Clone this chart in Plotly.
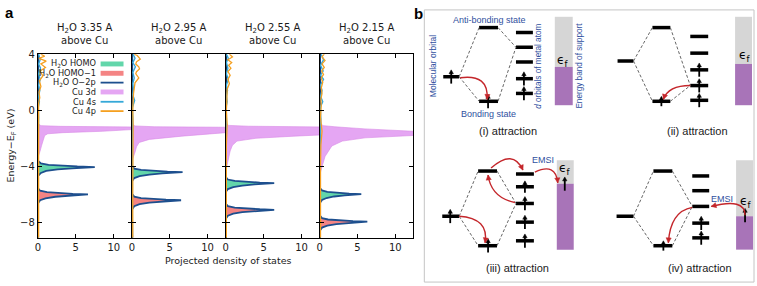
import plotly.graph_objects as go

W, H = 757, 286

# ------------------------------------------------------------------ data (panel a)
panel_titles = ["H<sub>2</sub>O 3.35 A<br>above Cu", "H<sub>2</sub>O 2.95 A<br>above Cu",
                "H<sub>2</sub>O 2.55 A<br>above Cu", "H<sub>2</sub>O 2.15 A<br>above Cu"]
x_ticks = [0, 5, 10]
y_ticks = [-8, -4, 0, 4]
legend_labels = ["H<sub>2</sub>O HOMO", "H<sub>2</sub>O HOMO\u22121", "H<sub>2</sub>O O\u22122p",
                 "Cu 3d", "Cu 4s", "Cu 4p"]

# H2O HOMO peaks (energy eV, PDOS)
homo_e1 = [-4.70, -4.47, -4.33, -4.22, -4.14, -4.09, -4.05, -4.01, -3.96, -3.89, -3.79, -3.60]
homo_v1 = [0, 0.4, 1.1, 2.6, 4.5, 6.2, 7.5, 5.2, 3.0, 1.4, 0.4, 0]
homo_e2 = [-5.07, -4.84, -4.70, -4.59, -4.51, -4.46, -4.42, -4.38, -4.33, -4.26, -4.16, -3.97]
homo_v2 = [0, 0.3, 1.0, 2.3, 4.0, 5.5, 6.7, 4.7, 2.7, 1.2, 0.3, 0]
homo_e3 = [-5.85, -5.62, -5.48, -5.37, -5.29, -5.24, -5.20, -5.16, -5.11, -5.04, -4.94, -4.75]
homo_v3 = [0, 0.3, 1.0, 2.2, 3.8, 5.2, 6.4, 4.5, 2.6, 1.2, 0.3, 0]
homo_e4 = [-6.63, -6.40, -6.26, -6.15, -6.07, -6.02, -5.98, -5.94, -5.89, -5.82, -5.72, -5.53]
homo_v4 = [0, 0.3, 0.9, 1.9, 3.3, 4.5, 5.5, 3.9, 2.2, 1.0, 0.3, 0]

# H2O HOMO-1 peaks
homo1_e1 = [-6.65, -6.42, -6.28, -6.17, -6.09, -6.04, -6.00, -5.96, -5.91, -5.84, -5.74, -5.55]
homo1_v1 = [0, 0.3, 1.0, 2.3, 4.0, 5.4, 6.6, 4.6, 2.6, 1.2, 0.3, 0]
homo1_e2 = [-7.07, -6.84, -6.70, -6.59, -6.51, -6.46, -6.42, -6.38, -6.33, -6.26, -6.16, -5.97]
homo1_v2 = [0, 0.3, 1.0, 2.3, 3.9, 5.3, 6.5, 4.5, 2.6, 1.2, 0.3, 0]
homo1_e3 = [-7.75, -7.52, -7.38, -7.27, -7.19, -7.14, -7.10, -7.06, -7.01, -6.94, -6.84, -6.65]
homo1_v3 = [0, 0.3, 1.0, 2.2, 3.8, 5.2, 6.4, 4.5, 2.6, 1.2, 0.3, 0]
homo1_e4 = [-8.60, -8.37, -8.23, -8.12, -8.04, -7.99, -7.95, -7.91, -7.86, -7.79, -7.69, -7.50]
homo1_v4 = [0, 0.3, 1.0, 2.2, 3.8, 5.1, 6.3, 4.4, 2.5, 1.1, 0.3, 0]

# Cu 3d
cu3d_e1 = [-0.95, -1.10, -1.15, -1.20, -1.30, -1.40, -1.50, -1.60, -1.68, -1.80, -2.10, -2.50, -2.90, -3.20, -3.40]
cu3d_v1 = [0, 0.4, 3.0, 14.0, 15.0, 12.4, 8.5, 3.3, 1.3, 0.9, 0.7, 0.5, 0.3, 0.1, 0]
cu3d_e2 = [-1.00, -1.12, -1.18, -1.22, -1.40, -1.60, -1.85, -2.08, -2.30, -2.60, -3.00, -3.40, -3.60]
cu3d_v2 = [0, 0.4, 3.0, 14.0, 14.5, 12.4, 6.6, 2.3, 0.95, 0.6, 0.4, 0.1, 0]
cu3d_e3 = [-0.95, -1.08, -1.14, -1.20, -1.50, -1.75, -1.85, -2.00, -2.20, -2.50, -2.90, -3.40, -3.90, -4.20, -4.40]
cu3d_v3 = [0, 0.4, 3.0, 14.0, 15.0, 13.0, 9.0, 4.0, 1.5, 0.9, 0.6, 0.4, 0.2, 0.05, 0]
cu3d_e4 = [-0.95, -1.10, -1.18, -1.33, -1.50, -1.65, -1.80, -1.97, -2.20, -2.55, -3.30, -4.00, -4.60]
cu3d_v4 = [0, 0.5, 2.0, 6.0, 12.4, 15.0, 12.4, 6.0, 3.0, 1.6, 0.7, 0.3, 0]

# Cu 4s
cu4s_e1 = [4.0, 3.6, 3.3, 3.0, 2.6, 2.2, 1.8, 1.4, 1.0, 0.6, 0.2, -0.5, -2.0, -5.0, -9.1]
cu4s_v1 = [0.1, 0.3, 0.1, 0.35, 0.1, 0.3, 0.1, 0.25, 0.1, 0.2, 0.05, 0.1, 0.05, 0.05, 0.05]
cu4s_e2 = [4.0, 3.7, 3.4, 3.1, 2.7, 2.3, 1.9, 1.5, 1.1, 0.7, 0.2, -0.6, -2.0, -5.0, -9.1]
cu4s_v2 = [0.15, 0.4, 0.1, 0.45, 0.1, 0.3, 0.1, 0.2, 0.1, 0.35, 0.05, 0.1, 0.05, 0.05, 0.05]
cu4s_e3 = [4.0, 3.7, 3.4, 3.0, 2.6, 2.2, 1.8, 1.4, 1.0, 0.6, 0.2, -0.6, -2.0, -5.0, -9.1]
cu4s_v3 = [0.1, 0.35, 0.1, 0.3, 0.1, 0.35, 0.1, 0.25, 0.1, 0.2, 0.05, 0.1, 0.05, 0.05, 0.05]
cu4s_e4 = [4.0, 3.6, 3.2, 2.8, 2.5, 2.2, 1.8, 1.4, 1.0, 0.6, 0.2, -0.6, -2.0, -5.0, -9.1]
cu4s_v4 = [0.2, 0.5, 0.1, 0.45, 0.1, 0.5, 0.1, 0.3, 0.1, 0.4, 0.05, 0.15, 0.05, 0.05, 0.05]

# Cu 4p
cu4p_e1 = [4.0, 3.85, 3.7, 3.5, 3.3, 3.05, 2.8, 2.45, 2.1, 1.7, 1.3, 0.9, 0.5, 0.0, -1.0, -2.5, -4.0, -6.0, -8.0, -9.1]
cu4p_v1 = [0.4, 0.9, 0.15, 1.1, 0.4, 1.0, 0.3, 0.65, 0.2, 0.4, 0.15, 0.25, 0.1, 0.1, 0.15, 0.1, 0.1, 0.1, 0.1, 0.1]
cu4p_e2 = [4.0, 3.9, 3.65, 3.45, 3.3, 3.1, 2.95, 2.75, 2.6, 2.3, 1.95, 1.6, 1.2, 0.6, 0.0, -1.0, -3.0, -6.0, -9.1]
cu4p_v2 = [0.3, 0.7, 1.1, 0.6, 0.5, 0.9, 1.0, 0.6, 0.5, 0.9, 0.4, 0.3, 0.2, 0.15, 0.1, 0.15, 0.1, 0.1, 0.1]
cu4p_e3 = [4.0, 3.8, 3.6, 3.4, 3.2, 3.0, 2.75, 2.5, 2.2, 1.9, 1.5, 1.0, 0.5, 0.0, -1.0, -2.5, -4.5, -7.0, -9.1]
cu4p_v3 = [0.5, 0.9, 0.3, 0.8, 0.4, 0.7, 0.3, 0.6, 0.3, 0.5, 0.2, 0.2, 0.15, 0.1, 0.2, 0.1, 0.1, 0.1, 0.1]
cu4p_e4 = [4.0, 3.8, 3.55, 3.3, 3.05, 2.8, 2.55, 2.3, 2.0, 1.6, 1.2, 0.8, 0.3, -0.5, -1.5, -2.5, -4.0, -6.0, -9.1]
cu4p_v4 = [0.6, 0.3, 0.7, 0.3, 0.6, 0.25, 0.5, 0.2, 0.4, 0.2, 0.3, 0.15, 0.2, 0.1, 0.3, 0.15, 0.1, 0.1, 0.1]

# ------------------------------------------------------------------ data (panel b schematic)
b_captions = ["(i) attraction", "(ii) attraction", "(iii) attraction", "(iv) attraction"]

# ------------------------------------------------------------------ styles
C_HOMO = "rgb(98,214,170)"
C_HOMO1 = "rgb(244,132,132)"
C_O2P = "#1d4f8e"
C_3D = "rgba(226,156,242,0.9)"
C_4S = "#35a8d8"
C_4P = "#f5a020"
TXT = "#1a1a1a"
BLUE = "#3050a0"
RED = "#c4262b"
FA = "DejaVu Sans"
FB = "Liberation Sans, Arial"

def X(px):
    return px / W

def Y(py):
    return 1 - py / H

panels = [
    (homo_e1, homo_v1, homo1_e1, homo1_v1, cu3d_e1, cu3d_v1, cu4s_e1, cu4s_v1, cu4p_e1, cu4p_v1),
    (homo_e2, homo_v2, homo1_e2, homo1_v2, cu3d_e2, cu3d_v2, cu4s_e2, cu4s_v2, cu4p_e2, cu4p_v2),
    (homo_e3, homo_v3, homo1_e3, homo1_v3, cu3d_e3, cu3d_v3, cu4s_e3, cu4s_v3, cu4p_e3, cu4p_v3),
    (homo_e4, homo_v4, homo1_e4, homo1_v4, cu3d_e4, cu3d_v4, cu4s_e4, cu4s_v4, cu4p_e4, cu4p_v4),
]
x_edges = [35, 129.5, 223.5, 318, 412]
y_top, y_bot = 50, 237

fig = go.Figure()
layout = dict(width=W, height=H, margin=dict(l=0, r=0, t=0, b=0),
              paper_bgcolor="white", plot_bgcolor="white", showlegend=False)

for i, (he, hv, h1e, h1v, de, dv, se, sv, pe, pv) in enumerate(panels):
    n = i + 1
    xa = "x" if n == 1 else f"x{n}"
    ya = "y" if n == 1 else f"y{n}"
    fig.add_trace(go.Scatter(x=dv, y=de, xaxis=xa, yaxis=ya, mode="lines", fill="tozerox",
                             fillcolor=C_3D, line=dict(color="#d88ae6", width=0.6)))
    fig.add_trace(go.Scatter(x=hv, y=he, xaxis=xa, yaxis=ya, mode="lines", fill="tozerox",
                             fillcolor=C_HOMO, line=dict(width=0)))
    fig.add_trace(go.Scatter(x=h1v, y=h1e, xaxis=xa, yaxis=ya, mode="lines", fill="tozerox",
                             fillcolor=C_HOMO1, line=dict(width=0)))
    o_e = [-9.1] + h1e + he + [4.0]
    o_v = [0.04] + h1v + hv + [0.04]
    fig.add_trace(go.Scatter(x=o_v, y=o_e, xaxis=xa, yaxis=ya, mode="lines",
                             line=dict(color=C_O2P, width=1.8)))
    fig.add_trace(go.Scatter(x=sv, y=se, xaxis=xa, yaxis=ya, mode="lines",
                             line=dict(color=C_4S, width=1.4)))
    fig.add_trace(go.Scatter(x=pv, y=pe, xaxis=xa, yaxis=ya, mode="lines",
                             line=dict(color=C_4P, width=1.3)))

    xkey = "xaxis" if n == 1 else f"xaxis{n}"
    ykey = "yaxis" if n == 1 else f"yaxis{n}"
    layout[xkey] = dict(domain=[X(x_edges[i]), X(x_edges[i + 1])], anchor=ya, range=[0, 12.4],
                        tickvals=x_ticks, ticks="inside", ticklen=4, tickcolor="black",
                        showline=True, linecolor="black", linewidth=1.2, mirror="ticks",
                        showgrid=False, zeroline=False,
                        tickfont=dict(family=FA, size=10, color=TXT))
    layout[ykey] = dict(domain=[Y(y_bot), Y(y_top)], anchor=xa, range=[-9.1, 4],
                        tickvals=y_ticks, ticks="inside", ticklen=4, tickcolor="black",
                        showline=True, linecolor="black", linewidth=1.2, mirror="ticks",
                        showgrid=False, zeroline=False, showticklabels=(n == 1),
                        tickfont=dict(family=FA, size=10, color=TXT))
    if n > 1:
        layout[ykey]["matches"] = "y"

annotations = []
shapes = []

def note(x, y, s, size, col=TXT, fam=FA, angle=0, xanchor="center"):
    annotations.append(dict(x=X(x), y=Y(y), xref="paper", yref="paper", text=s, showarrow=False,
                            textangle=angle, font=dict(family=fam, size=size, color=col),
                            xanchor=xanchor, yanchor="middle"))

# panel a titles
for i, t in enumerate(panel_titles):
    note((x_edges[i] + x_edges[i + 1]) / 2, 30, t, 10)
note(226, 260, "Projected density of states", 9.5)
note(9, 143, "Energy\u2212E<sub>F</sub> (eV)", 9.5, angle=-90)
note(7, 8, "<b>a</b>", 15, col="black", fam=FB)
note(417, 9, "<b>b</b>", 15, col="black", fam=FB)

# manual legend (labels right-aligned, sample on the right)
leg_y = [60, 69.5, 79, 88.5, 98.5, 108]
leg_kind = [("rect", C_HOMO), ("rect", C_HOMO1), ("line", C_O2P), ("rect", C_3D), ("line", C_4S), ("line", C_4P)]
for lab, ly, (kind, col) in zip(legend_labels, leg_y, leg_kind):
    note(95, ly, lab, 8.2, xanchor="right")
    if kind == "rect":
        shapes.append(dict(type="rect", xref="paper", yref="paper", x0=X(98), x1=X(121), y0=Y(ly - 2.5),
                           y1=Y(ly + 2.5), fillcolor=col, line=dict(width=0)))
    else:
        shapes.append(dict(type="line", xref="paper", yref="paper", x0=X(98), x1=X(121), y0=Y(ly), y1=Y(ly),
                           line=dict(color=col, width=1.8)))

# ------------------------------------------------------------------ panel b schematic helpers
def line(x0, y0, x1, y1, col="black", w=1.0, dsh=None):
    ln = dict(color=col, width=w)
    if dsh:
        ln["dash"] = dsh
    shapes.append(dict(type="line", xref="paper", yref="paper", x0=X(x0), x1=X(x1), y0=Y(y0), y1=Y(y1),
                       line=ln))

def head(tip, d, col, length=5.0, half=2.6):
    dx, dy = d
    L = (dx * dx + dy * dy) ** 0.5
    ux, uy = dx / L, dy / L
    nx, ny = -uy, ux
    bx, by = tip[0] - ux * length, tip[1] - uy * length
    pts = [(tip[0], tip[1]), (bx + nx * half, by + ny * half), (bx - nx * half, by - ny * half)]
    path = "M " + " L ".join(f"{X(px)},{Y(py)}" for px, py in pts) + " Z"
    shapes.append(dict(type="path", xref="paper", yref="paper", path=path, fillcolor=col,
                       line=dict(color=col, width=0.5)))

def hbar(x0, x1, y):
    line(x0, y, x1, y, w=3.5)

def dash(x0, y0, x1, y1):
    line(x0, y0, x1, y1, col="#555555", w=0.9, dsh="3px,2px")

def spin(x, y, half=7):
    line(x, y + half, x, y - half + 3, w=1.8)
    head((x, y - half), (0, -1), "black", length=4.0, half=2.2)

def rect(x0, y0, x1, y1, col):
    shapes.append(dict(type="rect", xref="paper", yref="paper", x0=X(x0), x1=X(x1), y0=Y(y1), y1=Y(y0),
                       fillcolor=col, line=dict(width=0), layer="below"))

def curve(p0, c, p1):
    path = f"M {X(p0[0])},{Y(p0[1])} Q {X(c[0])},{Y(c[1])} {X(p1[0])},{Y(p1[1])}"
    shapes.append(dict(type="path", xref="paper", yref="paper", path=path,
                       line=dict(color=RED, width=1.4)))
    head(p1, (p1[0] - c[0], p1[1] - c[1]), RED)

def txt(x, y, s, size=9, col=BLUE, angle=0, fam=FB):
    note(x, y, s, size, col=col, fam=fam, angle=angle)

def eps(x, y):
    txt(x, y, "\u03f5<sub>f</sub>", size=12, col="black", fam=FA)

GRAY = "#d6d6d6"
PURP = "#a874b8"

# border of panel b
shapes.append(dict(type="rect", xref="paper", yref="paper", x0=X(423), x1=X(754), y0=Y(282), y1=Y(5),
                   line=dict(color="#c4c4c4", width=1), layer="below"))

# (i)
hbar(478, 497, 23); hbar(442, 458, 73); hbar(478, 497, 98)
for yy in [28, 43, 58, 75, 90]:
    hbar(515, 532, yy)
spin(450, 73); spin(487, 98); spin(523, 75); spin(523, 90)
dash(458, 73, 478, 23); dash(458, 73, 478, 98); dash(497, 23, 515, 43); dash(497, 98, 515, 43)
rect(554, 12, 572, 63, GRAY); rect(554, 63, 572, 102, PURP)
eps(562, 57)
curve((459, 74), (488, 70), (486, 96))
txt(488, 15, "Anti-bonding state"); txt(487, 111, "Bonding state")
txt(432, 62, "Molecular orbital", size=8.5, angle=-90)
txt(538, 62, "<i>d</i> orbitals of metal atom", size=8.2, angle=-90)
txt(579, 62, "Energy band of support", size=8.2, angle=-90)
txt(507, 128, b_captions[0], size=11, col=TXT)

# (ii)
hbar(652, 670, 23); hbar(617, 633, 57); hbar(652, 670, 98)
for yy in [32, 49, 66, 82, 97]:
    hbar(690, 708, yy)
spin(661, 98, half=5); spin(699, 66); spin(699, 82); spin(699, 97)
dash(633, 57, 652, 23); dash(633, 57, 652, 98); dash(670, 23, 690, 82); dash(670, 98, 690, 82)
rect(735, 12, 752, 60, GRAY); rect(735, 60, 752, 102, PURP)
eps(744, 52)
curve((690, 82), (668, 82), (663, 96))
txt(697, 128, b_captions[1], size=11, col=TXT)

# (iii)
hbar(477, 496, 169); hbar(441, 458, 215); hbar(477, 496, 245)
for yy in [172, 185, 202, 221, 240]:
    hbar(515, 533, yy)
spin(449, 215); spin(487, 245); spin(524, 185, half=6); spin(524, 202); spin(524, 221); spin(524, 240)
dash(458, 215, 477, 169); dash(458, 215, 477, 245); dash(496, 169, 515, 202); dash(496, 245, 515, 202)
rect(556, 158, 573, 182, GRAY); rect(556, 182, 573, 249, PURP)
eps(564, 167)
spin(564, 182, half=7)
curve((458, 215), (488, 217), (484, 242))
curve((514, 201), (490, 196), (487, 173))
curve((490, 166), (512, 146), (522, 168))
curve((534, 170), (555, 160), (557, 181))
txt(542, 158, "EMSI")
txt(517, 268, b_captions[2], size=11, col=TXT)

# (iv)
hbar(653, 672, 169); hbar(616, 633, 215); hbar(653, 672, 245)
for yy in [174, 189, 205, 222, 237]:
    hbar(692, 709, yy)
spin(663, 245, half=5); spin(701, 222); spin(701, 237)
dash(633, 215, 653, 169); dash(633, 215, 653, 245); dash(672, 169, 692, 205); dash(672, 245, 692, 205)
rect(736, 158, 753, 215, GRAY); rect(736, 215, 753, 249, PURP)
eps(745, 200)
spin(745, 214, half=7)
curve((745, 214), (745, 196), (711, 205))
curve((692, 206), (670, 210), (668, 242))
txt(722, 197, "EMSI")
txt(700, 268, b_captions[3], size=11, col=TXT)

layout["annotations"] = annotations
layout["shapes"] = shapes
fig.update_layout(**layout)
fig.write_html("out.html", config={"displayModeBar": False},
               post_script="document.body.style.margin='0';document.body.style.overflow='hidden';")
